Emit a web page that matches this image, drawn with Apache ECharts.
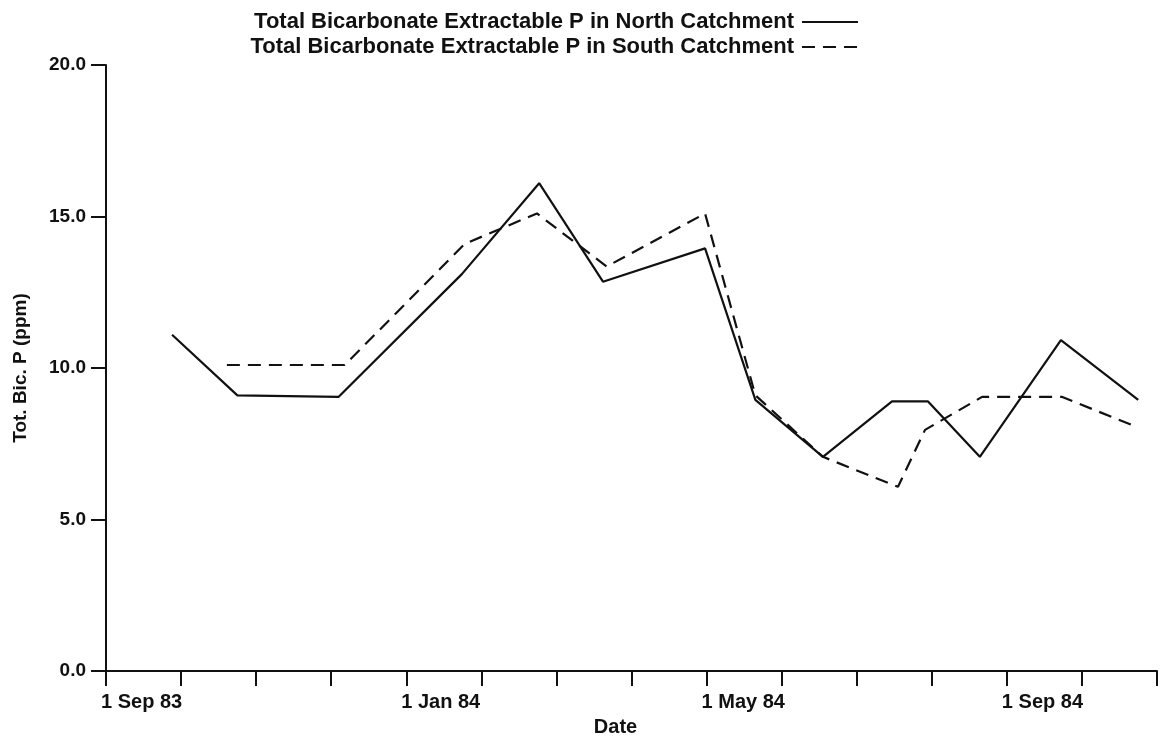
<!DOCTYPE html>
<html>
<head>
<meta charset="utf-8">
<script src="https://cdn.jsdelivr.net/npm/echarts@6/dist/echarts.min.js"></script>
<style>
  html, body { margin: 0; padding: 0; background: #ffffff; }
  #chart { width: 1164px; height: 742px; }
</style>
</head>
<body>
<div id="chart"></div>
<script>
// Sampling dates are expressed as months elapsed since 1 Sep 1983.
var northMonths = [0.88, 1.75, 3.10, 4.74, 5.77, 6.62, 7.98, 8.65, 9.55, 10.47, 10.95, 11.64, 12.72, 13.75];
var northValues = [11.1, 9.1, 9.05, 13.1, 16.1, 12.85, 13.95, 8.95, 7.07, 8.9, 8.9, 7.07, 10.92, 8.95];

var southMonths = [1.61, 3.18, 4.78, 5.74, 6.67, 7.98, 8.65, 9.55, 10.55, 10.91, 11.67, 12.73, 13.73];
var southValues = [10.1, 10.1, 14.1, 15.1, 13.35, 15.1, 9.1, 7.07, 6.08, 7.96, 9.05, 9.05, 8.06];

// Labelled month ticks (month offset -> text)
var tickLabels = { 0: '1 Sep 83', 4: '1 Jan 84', 8: '1 May 84', 12: '1 Sep 84' };

var seriesNames = [
  'Total Bicarbonate Extractable P in North Catchment',
  'Total Bicarbonate Extractable P in South Catchment'
];

function pairs(xs, ys) {
  return xs.map(function (x, i) { return [x, ys[i]]; });
}

var FONT = '"Liberation Sans", Arial, Helvetica, sans-serif';
var INK = '#111111';

var chart = echarts.init(document.getElementById('chart'), null, { renderer: 'canvas' });

chart.setOption({
  backgroundColor: '#ffffff',
  animation: false,
  textStyle: { fontFamily: FONT, color: INK, fontWeight: 'bold' },
  legend: {
    orient: 'vertical',
    align: 'right',
    right: 300,
    top: 6,
    itemWidth: 56,
    itemHeight: 14,
    itemGap: 3,
    itemStyle: { opacity: 0 },
    textStyle: { fontFamily: FONT, fontSize: 22, fontWeight: 'bold', color: INK, padding: [0, 3, 0, 0] },
    data: seriesNames
  },
  grid: { left: 106, right: 7, top: 65, bottom: 70, containLabel: false },
  xAxis: {
    type: 'value',
    min: 0,
    max: 14,
    interval: 1,
    name: 'Date',
    nameLocation: 'middle',
    nameGap: 37,
    nameTextStyle: { fontFamily: FONT, fontSize: 20, fontWeight: 'bold', color: INK, padding: [0, 32, 0, 0] },
    axisLine: { show: true, onZero: false, lineStyle: { color: INK, width: 2 } },
    axisTick: { show: true, inside: false, length: 15, lineStyle: { color: INK, width: 2 } },
    splitLine: { show: false },
    axisLabel: {
      show: true,
      margin: 21,
      align: 'left',
      padding: [0, 0, 0, -5],
      fontFamily: FONT,
      fontSize: 20,
      fontWeight: 'bold',
      color: INK,
      showMinLabel: true,
      showMaxLabel: true,
      formatter: function (v) { return tickLabels[v] || ''; }
    }
  },
  yAxis: {
    type: 'value',
    min: 0,
    max: 20,
    interval: 5,
    name: 'Tot. Bic. P (ppm)',
    nameLocation: 'middle',
    nameGap: 76,
    nameTextStyle: { fontFamily: FONT, fontSize: 19, fontWeight: 'bold', color: INK },
    axisLine: { show: true, lineStyle: { color: INK, width: 2 } },
    axisTick: { show: true, inside: false, length: 15, lineStyle: { color: INK, width: 2 } },
    splitLine: { show: false },
    axisLabel: {
      margin: 20,
      fontFamily: FONT,
      fontSize: 19,
      fontWeight: 'bold',
      color: INK,
      formatter: function (v) { return v.toFixed(1); }
    }
  },
  series: [
    {
      name: seriesNames[0],
      type: 'line',
      data: pairs(northMonths, northValues),
      symbol: 'none',
      lineStyle: { color: INK, width: 2.2, type: 'solid' },
      itemStyle: { color: INK }
    },
    {
      name: seriesNames[1],
      type: 'line',
      data: pairs(southMonths, southValues),
      symbol: 'none',
      lineStyle: { color: INK, width: 2.2, type: [13, 8] },
      itemStyle: { color: INK }
    }
  ]
});
</script>
</body>
</html>
